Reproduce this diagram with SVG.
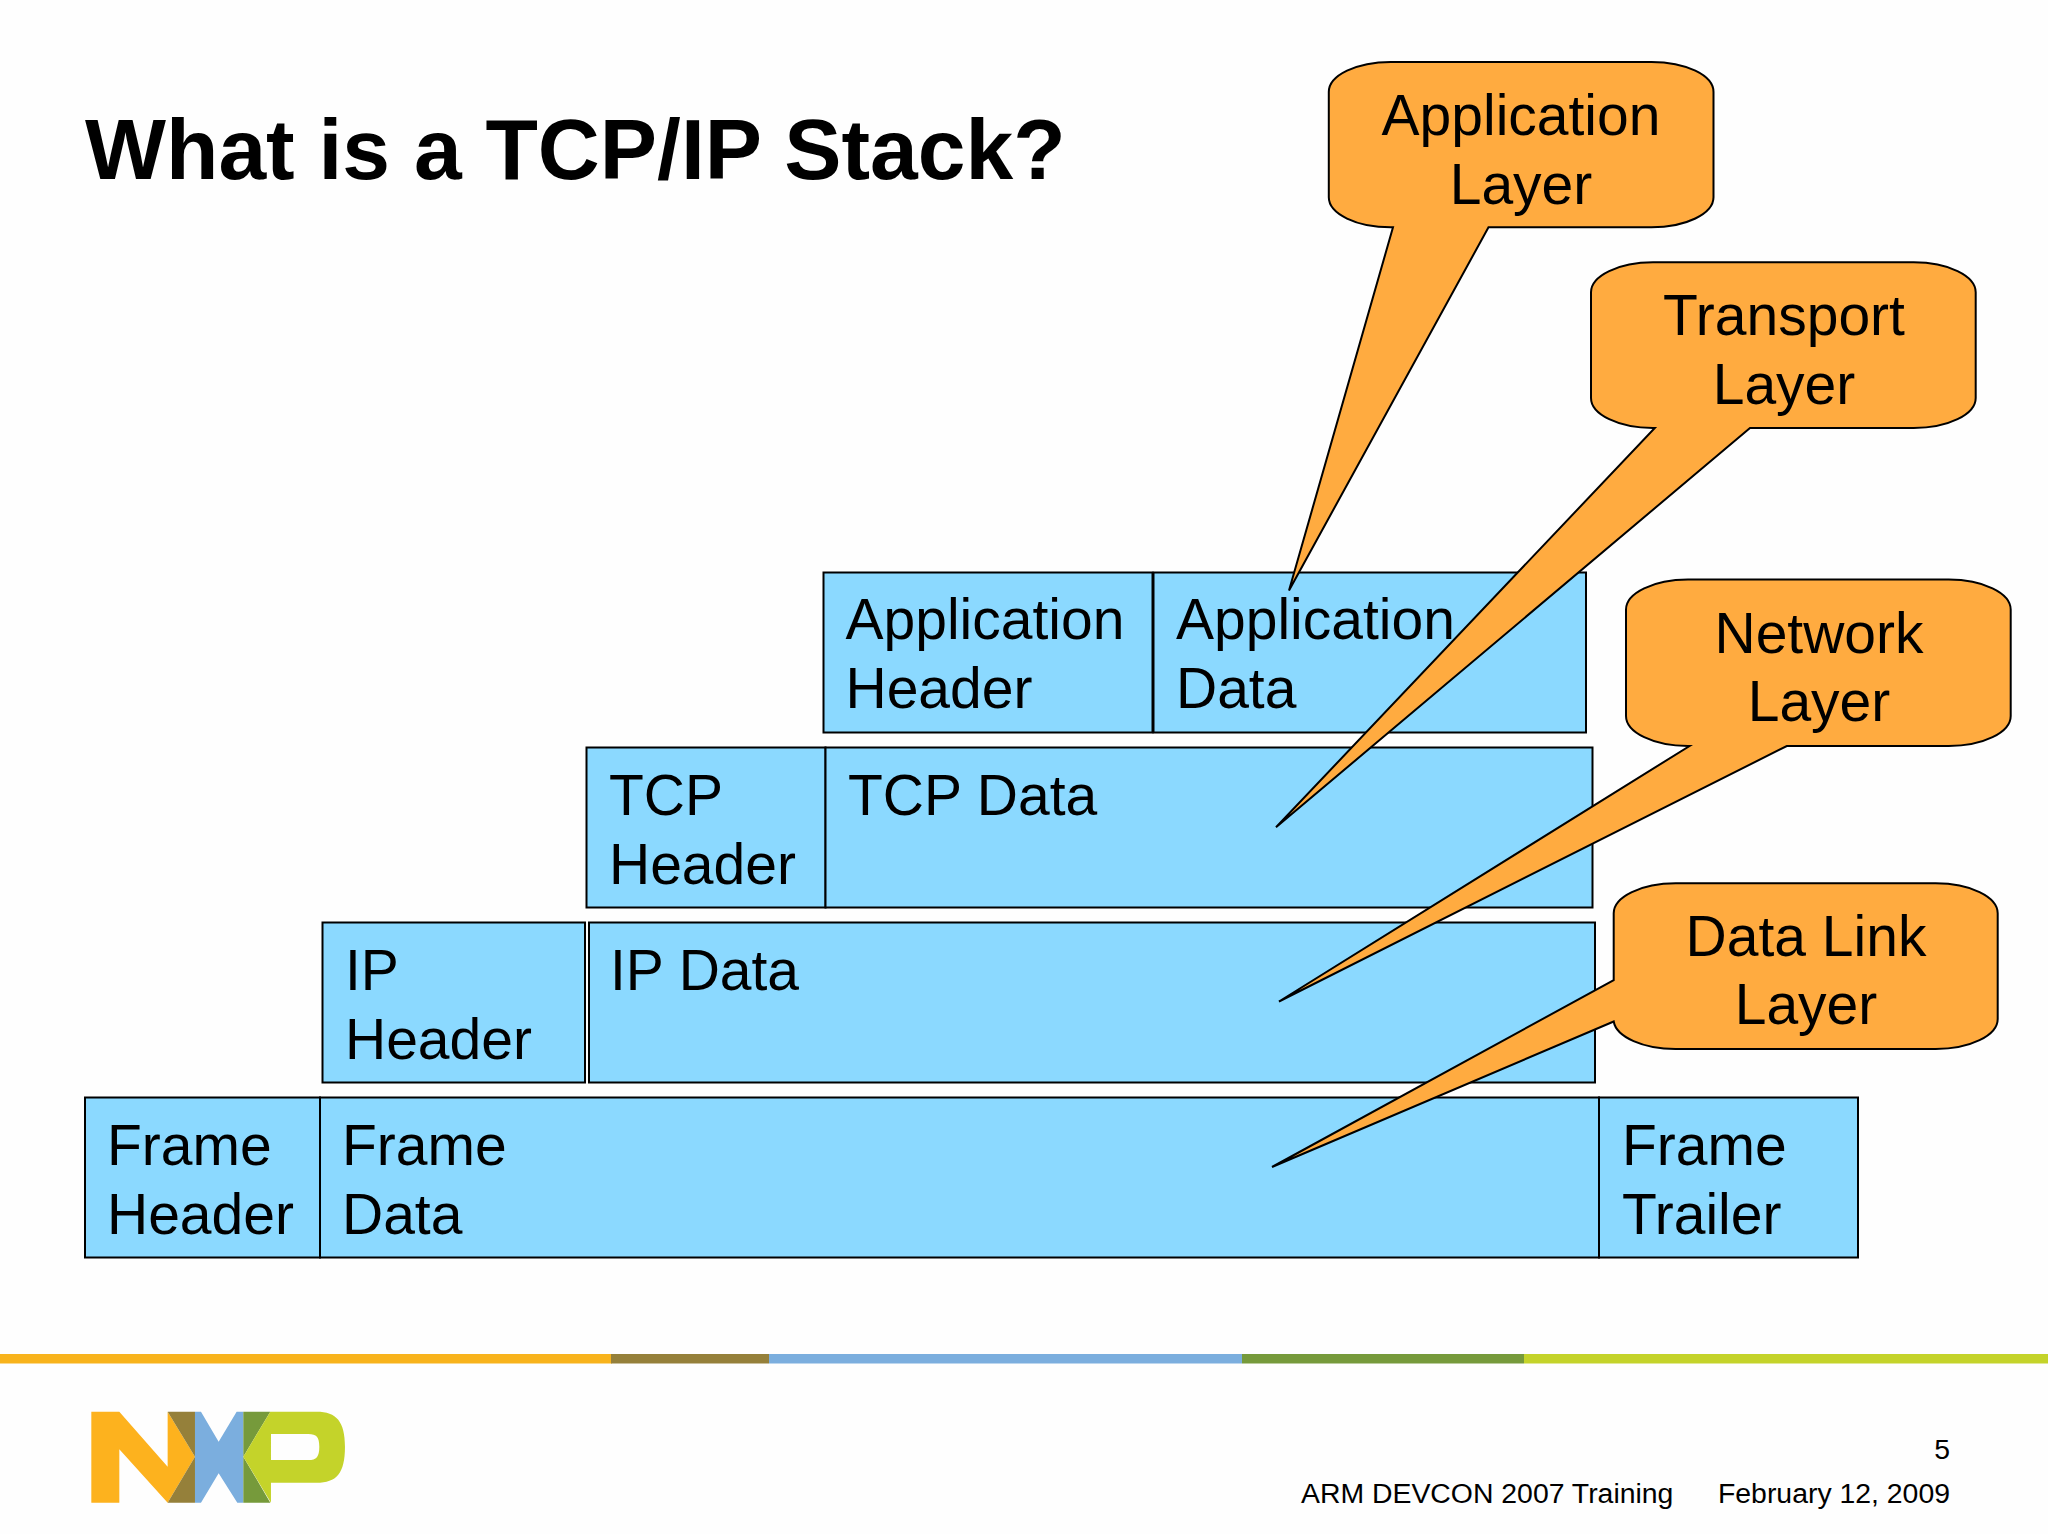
<svg xmlns="http://www.w3.org/2000/svg" width="2048" height="1534" viewBox="0 0 2048 1534">
<style>
text{font-family:"Liberation Sans",Arial,sans-serif;fill:#000}
.t{font-size:57px}
.c{font-size:57px;text-anchor:middle}
.b{fill:#8BD9FF;stroke:#000;stroke-width:2}
.o{fill:#FFAB40;stroke:#000;stroke-width:2;stroke-linejoin:miter}
.f{font-size:28.4px}
</style>
<rect width="2048" height="1534" fill="#FEFEFE"/>
<text id="title" x="85" y="179" font-size="85.8" font-weight="700">What is a TCP/IP Stack?</text>

<g id="frame-header"><rect class="b" x="85" y="1097.5" width="235" height="160"/><text class="t" x="107" y="1165">Frame</text><text class="t" x="107" y="1234">Header</text></g>
<g id="frame-data"><rect class="b" x="320" y="1097.5" width="1279" height="160"/><text class="t" x="342" y="1165">Frame</text><text class="t" x="342" y="1234">Data</text></g>
<g id="frame-trailer"><rect class="b" x="1599" y="1097.5" width="259" height="160"/><text class="t" x="1622" y="1165">Frame</text><text class="t" x="1622" y="1234">Trailer</text></g>
<g id="ip-header"><rect class="b" x="322.5" y="922.5" width="262.5" height="160"/><text class="t" x="345" y="990">IP</text><text class="t" x="345" y="1059">Header</text></g>
<g id="ip-data"><rect class="b" x="589" y="922.5" width="1006" height="160"/><text class="t" x="610" y="990">IP Data</text></g>
<g id="tcp-header"><rect class="b" x="586.5" y="747.5" width="239" height="160"/><text class="t" x="609" y="815">TCP</text><text class="t" x="609" y="884">Header</text></g>
<g id="tcp-data"><rect class="b" x="825.5" y="747.5" width="767" height="160"/><text class="t" x="848" y="815">TCP Data</text></g>
<g id="application-header"><rect class="b" x="823.5" y="572.5" width="329" height="160"/><text class="t" x="845.5" y="639">Application</text><text class="t" x="845.5" y="708">Header</text></g>
<g id="application-data"><rect class="b" x="1153.5" y="572.5" width="432.5" height="160"/><text class="t" x="1176" y="639">Application</text><text class="t" x="1176" y="708">Data</text></g>

<g transform="translate(0 .5)">
<g id="callout-application"><path class="o" d="M1391,61.4H1651.5A62 30 0 0 1 1713.5,91.4V196.8A62 30 0 0 1 1651.5,226.8H1488.5L1289,590L1393,226.8H1391A62 30 0 0 1 1328.8,196.8V91.4A62 30 0 0 1 1391,61.4Z"/><text class="c" x="1521" y="134">Application</text><text class="c" x="1521" y="203">Layer</text></g>
<g id="callout-transport"><path class="o" d="M1653,261.8H1913.7A62 30 0 0 1 1975.7,291.8V397.5A62 30 0 0 1 1913.7,427.5H1750L1276,826.8L1654.8,427.5H1653A62 30 0 0 1 1591,397.5V291.8A62 30 0 0 1 1653,261.8Z"/><text class="c" x="1784" y="334">Transport</text><text class="c" x="1784" y="403">Layer</text></g>
<g id="callout-network"><path class="o" d="M1688,579H1948.7A62 30 0 0 1 2010.7,609V715.5A62 30 0 0 1 1948.7,745.5H1786.8L1279,1001L1689.5,745.5H1688A62 30 0 0 1 1626,715.5V609A62 30 0 0 1 1688,579Z"/><text class="c" x="1819" y="652">Network</text><text class="c" x="1819" y="720">Layer</text></g>
<g id="callout-datalink"><path class="o" d="M1675.7,882.8H1935.7A62 30 0 0 1 1997.7,912.8V1018.5A62 30 0 0 1 1935.7,1048.5H1675.7A62 30 0 0 1 1613.7,1021L1272,1166.5L1613.7,979.6V912.8A62 30 0 0 1 1675.7,882.8Z"/><text class="c" x="1806" y="955">Data Link</text><text class="c" x="1806" y="1023">Layer</text></g>
</g>

<g id="footer-bar">
<rect x="0" y="1354" width="612" height="9.5" fill="#F8B31C"/>
<rect x="611" y="1354" width="158" height="9.5" fill="#95803A"/>
<rect x="769" y="1354" width="473" height="9.5" fill="#7BAEDE"/>
<rect x="1242" y="1354" width="282" height="9.5" fill="#769A3B"/>
<rect x="1524" y="1354" width="524" height="9.5" fill="#C4D32A"/>
</g>
<g id="nxp-logo" transform="translate(0 1330) scale(.3333)">
<path fill="#FDB21E" d="M274,245H358L503,410V245L585,380L503,518L358,358V518H274Z"/>
<path fill="#95803A" d="M503,245H585V380ZM585,380V518H503Z"/>
<path fill="#7BAEDE" d="M585,245H603L656,335L710,245H730V518H712L656,430L603,518H585Z"/>
<path fill="#769A3B" d="M730,245H811L730,380ZM730,380L811,518H730Z"/>
<path fill="#C4D32A" fill-rule="evenodd" d="M811,245H950C1010,245 1035,275 1035,350C1035,430 1010,458 950,458H813V518L730,380ZM813,312V390H925C950,390 958,380 958,350C958,322 950,312 925,312Z"/>
</g>
<g id="footer-text">
<text class="f" x="1950" y="1459" text-anchor="end">5</text>
<text class="f" x="1301" y="1503">ARM DEVCON 2007 Training</text>
<text class="f" x="1950" y="1503" text-anchor="end">February 12, 2009</text>
</g>
</svg>
